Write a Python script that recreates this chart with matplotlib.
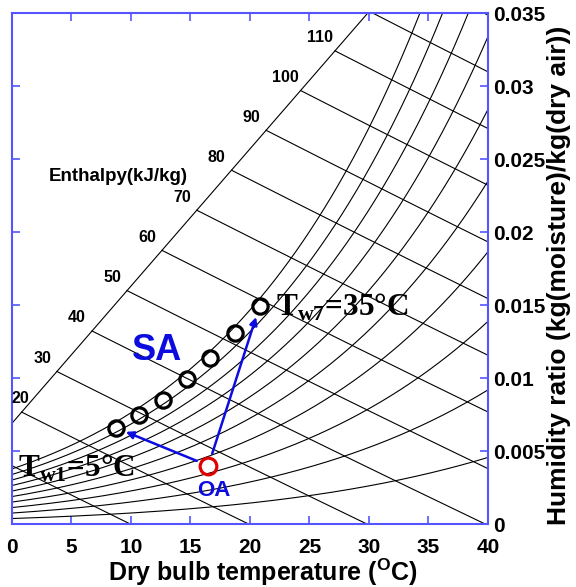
import matplotlib
matplotlib.use('Agg')
import matplotlib.pyplot as plt
import numpy as np

plt.rcParams['font.family'] = ['Liberation Sans', 'DejaVu Sans']
plt.rcParams['mathtext.fontset'] = 'custom'
plt.rcParams['mathtext.rm'] = 'Liberation Serif:bold'
plt.rcParams['mathtext.bf'] = 'Liberation Serif:bold'

# chart data
rh_levels = [0.1, 0.2, 0.3, 0.4, 0.5, 0.6, 0.7, 0.8, 0.9, 1.0]
h_levels = [10, 20, 30, 40, 50, 60, 70, 80, 90, 100, 110, 120, 130]
h_labelled = [20, 30, 40, 50, 60, 70, 80, 90, 100, 110]
guide_t = [0.0, 29.9]          # enthalpy scale guide line
guide_w = [0.0069, 0.0350]
sa_t = [8.7, 10.7, 12.7, 14.7, 16.6, 18.7, 20.8]
sa_w = [0.0066, 0.0075, 0.0085, 0.0099, 0.0114, 0.0131, 0.0149]
oa_t = 16.5
oa_w = 0.0040
xticks = [0, 5, 10, 15, 20, 25, 30, 35, 40]
yticks = [0, 0.005, 0.01, 0.015, 0.02, 0.025, 0.03, 0.035]
ytick_labels = ['0', '0.005', '0.01', '0.015', '0.02', '0.025', '0.03', '0.035']

P = 101.325
blue = '#0c0ce0'
spine_blue = '#5555ff'


def w_sat(t, rh):
    pws = 0.61094 * np.exp(17.625 * t / (t + 243.04))
    pw = rh * pws
    return 0.622 * pw / (P - pw)


def w_enth(t, h):
    return (h - 1.006 * t) / (2501 + 1.86 * t)


fig = plt.figure(figsize=(5.76, 5.87), dpi=100)
ax = fig.add_axes([0.0208, 0.1073, 0.8264, 0.8705])

t = np.linspace(0, 40, 400)
for rh in rh_levels:
    ax.plot(t, w_sat(t, rh), color='k', lw=0.8)

# guide line for the enthalpy scale
gs = (guide_w[1] - guide_w[0]) / (guide_t[1] - guide_t[0])
ax.plot(guide_t, guide_w, color='k', lw=0.8)

tg = np.linspace(-15, 50, 6501)
for h in h_levels:
    diff = (guide_w[0] + gs * tg) - w_enth(tg, h)
    t0 = np.interp(0, diff, tg)
    tt = np.linspace(t0, 45, 200)
    ax.plot(tt, w_enth(tt, h), color='k', lw=0.8)
    if h in h_labelled:
        w0 = w_enth(t0, h)
        lt = max(t0 - 1.25, 0.7)
        ax.text(lt, w0 + 0.0009, str(h), ha='center', va='center',
                fontsize=11.5, fontweight='bold')

ax.text(8.9, 0.0238, 'Enthalpy(kJ/kg)', ha='center', va='center',
        fontsize=13.5, fontweight='bold')

# supply air points
ax.plot(sa_t, sa_w, 'o', ms=11, mfc='none', mec='k', mew=2.3)
ax.plot([oa_t], [oa_w], 'o', ms=12, mfc='none', mec='#e00000', mew=2.3)

for i in [0, len(sa_t) - 1]:
    ax.annotate('', xy=(sa_t[i], sa_w[i]), xytext=(oa_t, oa_w),
                arrowprops=dict(arrowstyle='-|>', color=blue, lw=1.8,
                                shrinkA=9, shrinkB=8, mutation_scale=11))

ax.text(12.2, 0.0119, 'SA', color=blue, fontsize=26, fontweight='bold',
        ha='center', va='center')
ax.annotate('OA', xy=(oa_t, oa_w), xytext=(4, -18), textcoords='offset points',
            color=blue, fontsize=16, fontweight='bold', ha='center', va='center')

ax.text(0.5, 0.0038, r'T$_{\mathbf{w1}}$=5°C', fontsize=22.5, ha='left', va='center',
        family='Liberation Serif', fontweight='bold')
ax.annotate(r'T$_{\mathbf{w7}}$=35°C', xy=(sa_t[-1], sa_w[-1]), xytext=(12, -1),
            textcoords='offset points', fontsize=22.5, ha='left', va='center',
            family='Liberation Serif', fontweight='bold')

ax.set_xlim(0, 40)
ax.set_ylim(0, 0.035)
ax.set_xticks(xticks)
ax.set_yticks(yticks)
ax.set_yticklabels(ytick_labels)
ax.yaxis.tick_right()
ax.yaxis.set_label_position('right')
ax.tick_params(which='both', direction='in', top=True, bottom=True, left=True,
               right=True, color=spine_blue, length=6, width=1.2,
               labelsize=15)
ax.tick_params(axis='x', pad=10)
ax.tick_params(axis='y', pad=4)
for lab in ax.get_xticklabels() + ax.get_yticklabels():
    lab.set_fontweight('bold')
for sp in ax.spines.values():
    sp.set_color(spine_blue)
    sp.set_linewidth(1.5)

ax.set_xlabel(r'Dry bulb temperature ($^{\mathregular{O}}$C)', fontsize=18,
              fontweight='bold', labelpad=0)
ax.xaxis.label.set_x(0.527)
ax.set_ylabel('Humidity ratio (kg(moisture)/kg(dry air))', fontsize=19,
              fontweight='bold', labelpad=1)
ax.yaxis.label.set_y(0.487)

fig.savefig('out.png', dpi=100)
